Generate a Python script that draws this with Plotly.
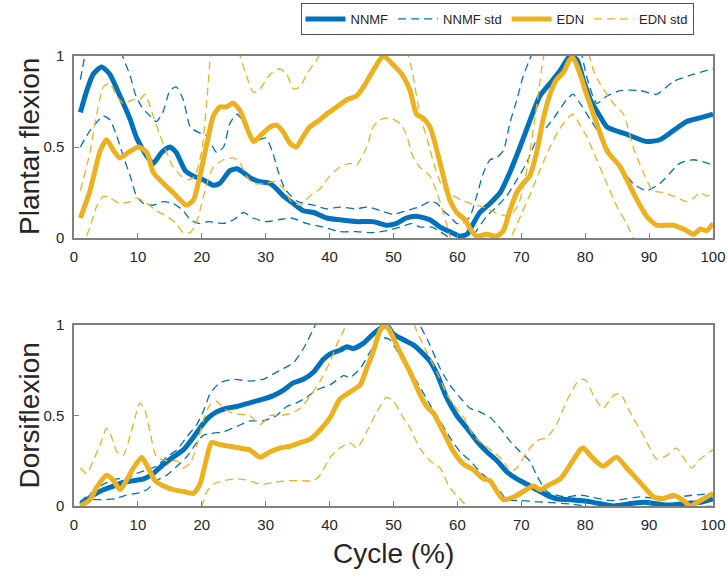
import plotly.graph_objects as go

BLUE = "#0072BD"
ORANGE = "#EDB120"

# ---------------- Top panel: Plantar flexion ----------------
pf_nnmf_x = [1, 2, 3, 4.3, 5.6, 7.2, 8.8, 9.8, 11.4, 12.4, 13.7, 15, 16, 17.4, 18.7, 20.2, 21.8, 22.8,
             24.4, 25.5, 26.5, 27.6, 29.1, 30.7, 31.7, 32.8, 34.3, 35.9, 37.5, 39.5, 41.6, 44.2, 46.8,
             48.9, 50.5, 52, 53.6, 55.7, 57.3, 58.8, 60.4, 61.5, 62.5, 63.5, 65.1, 66.7, 68.2, 69.8,
             71.4, 72.9, 74.5, 76.1, 77.6, 78.7, 79.7, 80.8, 82.3, 83.4, 86.5, 89.6, 91.7, 93.8, 95.9,
             98, 100]
pf_nnmf_y = [0.69, 0.81, 0.90, 0.94, 0.90, 0.78, 0.65, 0.55, 0.45, 0.41, 0.47, 0.50, 0.47, 0.37, 0.34,
             0.32, 0.29, 0.30, 0.37, 0.38, 0.36, 0.33, 0.31, 0.30, 0.27, 0.23, 0.19, 0.15, 0.14, 0.11,
             0.10, 0.09, 0.09, 0.07, 0.08, 0.11, 0.12, 0.10, 0.06, 0.035, 0.01, 0.02, 0.08, 0.14, 0.19,
             0.25, 0.36, 0.50, 0.65, 0.78, 0.85, 0.92, 1.0, 0.98, 0.87, 0.76, 0.67, 0.61, 0.57, 0.53,
             0.54, 0.59, 0.64, 0.66, 0.68]

pf_nnmf_up_x = [1, 2, 3, 5, 6.5, 7.7, 8.8, 9.6, 10.6, 11.9, 12.9, 14, 15, 16, 17.1, 18.2, 19.5, 20.8,
                22.3, 23.4, 24.4, 25.5, 26.5, 28, 30, 31, 32, 33, 34, 35, 37.5, 39.5, 41.6, 44, 46, 48,
                50, 52, 54, 55.7, 56.8, 57.8, 58.8, 59.9, 60.9, 62, 63, 64.1, 65.1, 66.1, 67.2, 68.2,
                69.3, 70.3, 71.3, 72.5, 75, 78, 79.5, 80.2, 81.8, 83.4, 85.5, 88.6, 91.2, 93.8, 97, 100]
pf_nnmf_up_y = [0.87, 1.05, 1.15, 1.2, 1.1, 0.99, 0.89, 0.79, 0.72, 0.67, 0.64, 0.70, 0.81, 0.83, 0.76,
                0.61, 0.58, 0.56, 0.47, 0.50, 0.63, 0.68, 0.64, 0.53, 0.55, 0.48, 0.36, 0.27, 0.23, 0.20,
                0.18, 0.16, 0.17, 0.16, 0.17, 0.15, 0.13, 0.15, 0.17, 0.20, 0.19, 0.15, 0.12, 0.08, 0.08,
                0.12, 0.23, 0.36, 0.43, 0.44, 0.48, 0.63, 0.76, 0.89, 0.98, 1.08, 1.2, 1.15, 1.0, 0.89,
                0.74, 0.78, 0.81, 0.81, 0.79, 0.86, 0.90, 0.93]

pf_nnmf_lo_x = [1, 2.5, 4.6, 5.6, 6.7, 7.7, 8.8, 9.8, 10.9, 12.4, 14, 15.5, 17.1, 18.2, 19.5, 21, 23.4,
                25, 26.5, 28, 30, 32, 34, 36.4, 39, 41.6, 44, 46.8, 49, 51, 53, 54.1, 56, 57.3, 58.8,
                60.4, 62, 63, 64.6, 66.1, 67.7, 69.3, 70.8, 72.4, 74, 75.5, 77.1, 78.1, 79.2, 80.8,
                82.3, 83.4, 85.5, 87.5, 89.6, 91.7, 94.8, 97, 100]
pf_nnmf_lo_y = [0.50, 0.59, 0.67, 0.65, 0.56, 0.45, 0.34, 0.23, 0.19, 0.18, 0.20, 0.19, 0.15, 0.10, 0.08,
                0.09, 0.08, 0.10, 0.14, 0.11, 0.09, 0.10, 0.11, 0.08, 0.06, 0.035, 0.035, 0.03, 0.04,
                0.06, 0.08, 0.06, 0.06, 0.035, 0.0, -0.03, -0.01, 0.04, 0.12, 0.17, 0.23, 0.32, 0.41,
                0.54, 0.61, 0.68, 0.76, 0.79, 0.74, 0.65, 0.57, 0.50, 0.39, 0.30, 0.26, 0.30, 0.41, 0.43,
                0.40]

pf_edn_x = [1, 2.5, 4.1, 5.1, 6.2, 7.2, 8.5, 10.1, 11.4, 12.4, 14, 15.5, 16.6, 17.6, 18.7, 19.7, 20.8,
            21.8, 22.8, 23.8, 24.9, 26, 27, 28.1, 29.1, 30.7, 31.7, 32.8, 33.8, 34.8, 35.9, 36.9, 38.5,
            39.5, 41.1, 42.7, 44.2, 45.3, 46.8, 48.4, 50, 51.5, 52.6, 53.6, 54.6, 55.7, 56.8, 57.8,
            58.8, 59.9, 61.2, 62.2, 63, 64.6, 66.1, 67.2, 68.2, 69.3, 70.3, 71.3, 72.4, 73.4, 74.5,
            75.5, 76.6, 77.6, 78.1, 79.2, 80.2, 81.8, 83.4, 85.5, 87.5, 89.6, 91.2, 93.8, 95.9, 97, 98,
            99, 100]
pf_edn_y = [0.11, 0.26, 0.48, 0.54, 0.48, 0.44, 0.47, 0.50, 0.47, 0.36, 0.30, 0.25, 0.21, 0.18, 0.21,
            0.34, 0.52, 0.67, 0.72, 0.72, 0.74, 0.70, 0.61, 0.53, 0.56, 0.61, 0.62, 0.58, 0.52, 0.50,
            0.56, 0.61, 0.65, 0.68, 0.72, 0.76, 0.78, 0.83, 0.92, 1.0, 0.95, 0.89, 0.81, 0.68, 0.66,
            0.61, 0.48, 0.34, 0.21, 0.14, 0.10, 0.04, 0.01, 0.02, 0.01, 0.04, 0.15, 0.25, 0.30, 0.34,
            0.47, 0.65, 0.79, 0.87, 0.91, 0.98, 0.99, 0.90, 0.79, 0.63, 0.48, 0.39, 0.25, 0.12, 0.07,
            0.07, 0.04, 0.02, 0.05, 0.04, 0.08]

pf_edn_up_x = [1, 2.5, 3.5, 4.6, 5.6, 6.7, 7.7, 9.3, 10.3, 11.1, 12.4, 13.5, 14.5, 15.5, 16.8, 17.9,
               18.9, 20, 20.8, 21.3, 22, 24, 25.5, 26, 27, 28.1, 29.1, 30.7, 32.2, 33.3, 34.3, 35.4,
               36.4, 38, 40, 45, 50, 52, 53, 54.2, 55.3, 56.3, 57.4, 58.4, 59.5, 60.5, 62, 64, 66, 68,
               69.5, 71, 72.5, 73.5, 75, 79, 80.5, 81.3, 82.3, 84.4, 86, 87.5, 89.1, 90.6, 92.2, 93.8,
               95.9, 97, 98, 99, 100]
pf_edn_up_y = [0.26, 0.47, 0.67, 0.83, 0.85, 0.78, 0.74, 0.76, 0.76, 0.79, 0.67, 0.56, 0.47, 0.39,
               0.34, 0.32, 0.34, 0.48, 0.76, 0.98, 1.15, 1.2, 1.1, 1.0, 0.89, 0.80, 0.82, 0.90, 0.93,
               0.90, 0.82, 0.83, 0.90, 0.98, 1.1, 1.2, 1.2, 1.05, 0.90, 0.67, 0.54, 0.41, 0.30, 0.25,
               0.23, 0.21, 0.19, 0.17, 0.14, 0.12, 0.18, 0.40, 0.75, 1.0, 1.2, 1.2, 1.02, 0.92, 0.85,
               0.74, 0.68, 0.50, 0.36, 0.26, 0.25, 0.23, 0.20, 0.22, 0.25, 0.23, 0.25]

pf_edn_lo_x = [1, 1.7, 2.5, 3.5, 4.6, 5.6, 7.2, 8.8, 9.8, 11.4, 12.9, 14.5, 16, 17.1, 18.2, 19, 19.7,
               20.8, 21.8, 23.4, 25, 26, 27, 28, 30, 31.5, 32.8, 34, 35.5, 36.9, 38.5, 40, 41.6, 43.2,
               44.2, 45.8, 46.8, 47.9, 49.4, 51, 52, 53, 54.1, 55.7, 56.8, 57.8, 58.9, 60, 66, 68, 69,
               70, 71.5, 73, 74.5, 76, 78, 79.2, 80.2, 81.8, 83.4, 85, 86.5, 87.5, 89, 100]
pf_edn_lo_y = [-0.05, -0.01, 0.06, 0.17, 0.23, 0.22, 0.19, 0.20, 0.22, 0.19, 0.15, 0.12, 0.08, 0.03,
               0.03, 0.07, 0.15, 0.30, 0.39, 0.43, 0.44, 0.41, 0.34, 0.30, 0.30, 0.31, 0.27, 0.20, 0.18,
               0.23, 0.27, 0.34, 0.39, 0.41, 0.40, 0.50, 0.61, 0.65, 0.66, 0.63, 0.57, 0.45, 0.39, 0.34,
               0.25, 0.14, 0.0, -0.1, -0.1, -0.02, 0.05, 0.13, 0.25, 0.38, 0.50, 0.60, 0.68, 0.62, 0.56,
               0.43, 0.30, 0.17, 0.08, 0.0, -0.05, -0.05]

# ---------------- Bottom panel: Dorsiflexion ----------------
df_nnmf_x = [1, 1.5, 3, 4.6, 6.2, 7.7, 9.3, 10.9, 12.4, 14, 15.5, 17.1, 18.7, 19.7, 20.8, 22.3, 23.9,
             25.5, 27.5, 29.6, 31.2, 32.8, 34.3, 35.9, 37.5, 39, 40.1, 41.6, 42.7, 43.7, 45.3, 46.8,
             47.9, 48.9, 50, 51.5, 53.1, 54.1, 55.7, 56.8, 58.3, 59.9, 61.5, 63, 64.6, 66.2, 67.7,
             69.3, 70.9, 72.4, 74, 75.5, 77.6, 79.2, 81.3, 84.4, 87.5, 89.6, 92.8, 95.9, 98, 100]
df_nnmf_y = [0.01, 0.02, 0.06, 0.09, 0.11, 0.13, 0.14, 0.15, 0.18, 0.23, 0.27, 0.31, 0.38, 0.43, 0.48,
             0.52, 0.54, 0.55, 0.57, 0.59, 0.61, 0.64, 0.68, 0.70, 0.74, 0.81, 0.84, 0.86, 0.88, 0.87,
             0.90, 0.95, 0.98, 1.0, 0.95, 0.92, 0.89, 0.86, 0.80, 0.73, 0.60, 0.50, 0.43, 0.36, 0.30,
             0.25, 0.19, 0.15, 0.12, 0.09, 0.06, 0.04, 0.035, 0.03, 0.02, 0.0, 0.015, 0.02, 0.005,
             0.015, 0.02, 0.04]

df_nnmf_up_x = [1, 1.5, 3, 4.6, 6.7, 8.2, 9.8, 11.4, 12.9, 14.5, 16.1, 17.6, 19.2, 20.2, 21.3, 22.8,
                25, 27.5, 29.6, 31.2, 32.8, 34.3, 35.9, 37.5, 38.5, 45, 52, 54.1, 55.7, 57.3, 58.8,
                60.4, 62, 63.5, 65.1, 66.7, 68.2, 69.8, 71.3, 72.4, 74, 75.5, 77, 79.2, 84, 88.6, 92,
                96.9, 100]
df_nnmf_up_y = [0.02, 0.04, 0.08, 0.12, 0.15, 0.15, 0.18, 0.20, 0.22, 0.27, 0.31, 0.38, 0.45, 0.52,
                0.62, 0.68, 0.70, 0.69, 0.70, 0.73, 0.76, 0.79, 0.87, 0.98, 1.05, 1.15, 1.1, 1.0, 0.89,
                0.76, 0.67, 0.60, 0.54, 0.52, 0.49, 0.43, 0.36, 0.30, 0.25, 0.17, 0.08, 0.06, 0.05,
                0.06, 0.03, 0.05, 0.04, 0.06, 0.07]

df_nnmf_lo_x = [1, 3, 4.6, 6.5, 8.2, 9.8, 11.4, 12.9, 14.5, 16.1, 17.6, 19.2, 20.2, 21.3, 23.4, 25.5,
                27.5, 29.6, 31.7, 33.3, 34.8, 36.4, 37.9, 40.1, 42.2, 43.2, 44.8, 46.3, 47.9, 49.4,
                50.5, 52, 53.6, 55.7, 57.3, 58.8, 60.4, 62, 63.5, 65.1, 66.7, 67.7, 70, 74, 78, 82,
                86, 90, 95, 100]
df_nnmf_lo_y = [0.03, 0.035, 0.035, 0.04, 0.06, 0.07, 0.09, 0.14, 0.17, 0.22, 0.27, 0.35, 0.39, 0.40,
                0.41, 0.44, 0.47, 0.47, 0.50, 0.55, 0.57, 0.60, 0.64, 0.67, 0.72, 0.71, 0.76, 0.85,
                0.93, 0.92, 0.86, 0.77, 0.69, 0.56, 0.47, 0.38, 0.30, 0.25, 0.19, 0.14, 0.08, 0.035,
                0.03, 0.02, 0.01, -0.01, -0.02, -0.01, -0.01, 0.0]

df_edn_x = [1, 2.5, 3.5, 5.1, 6.2, 7.2, 8.2, 9.3, 10.6, 11.6, 12.7, 14, 15.5, 17.1, 18.7, 19.7, 20.8,
            21.5, 22.8, 24.4, 26, 27.5, 29.1, 30.7, 32.2, 33.8, 35.4, 37, 38.5, 40.1, 41.6, 43.2, 44.8,
            45.8, 46.8, 47.9, 48.7, 49.4, 51, 52.6, 54.1, 55.2, 56.3, 57.8, 59.4, 61, 62.5, 64.1, 65.1,
            66.2, 67.2, 68.8, 70.3, 71.9, 73, 74.5, 76.1, 77.7, 79.2, 79.7, 81.3, 82.8, 84.9, 86.5,
            88.6, 90.7, 92.2, 93.8, 95.4, 96.4, 98, 100]
df_edn_y = [0.0, 0.035, 0.10, 0.17, 0.14, 0.09, 0.14, 0.21, 0.27, 0.21, 0.14, 0.11, 0.09, 0.08, 0.07,
            0.12, 0.27, 0.35, 0.34, 0.33, 0.32, 0.31, 0.27, 0.30, 0.32, 0.33, 0.35, 0.37, 0.42, 0.49,
            0.59, 0.63, 0.67, 0.76, 0.85, 0.97, 1.0, 0.97, 0.85, 0.74, 0.62, 0.55, 0.51, 0.41, 0.30,
            0.23, 0.20, 0.15, 0.14, 0.08, 0.035, 0.05, 0.08, 0.11, 0.09, 0.12, 0.15, 0.23, 0.31, 0.32,
            0.26, 0.22, 0.27, 0.21, 0.13, 0.05, 0.04, 0.06, 0.03, 0.0, 0.03, 0.07]

df_edn_up_x = [1, 2, 3, 4.1, 5.1, 5.9, 6.7, 7.7, 8.8, 9.8, 10.3, 11.1, 11.9, 12.9, 14.5, 16.1, 17.1,
               18.2, 19.2, 20.2, 21.3, 22.3, 23.4, 25, 27.5, 29.1, 30.7, 32.2, 33.8, 35.4, 37, 38.5,
               40.1, 41.1, 42.2, 43, 48, 52, 53.6, 55.2, 56.8, 58.3, 59.4, 61, 62.5, 64.1, 65.6, 67.2,
               68.3, 69.3, 70.9, 72.4, 74, 75.5, 77.1, 78.7, 79.5, 80.2, 81.3, 82.8, 84.4, 85.5, 87,
               89.1, 91.2, 92.8, 94.3, 95.9, 96.7, 98, 99.5, 100]
df_edn_up_y = [0.21, 0.18, 0.25, 0.34, 0.43, 0.38, 0.30, 0.28, 0.39, 0.52, 0.57, 0.53, 0.41, 0.27,
               0.25, 0.25, 0.21, 0.24, 0.33, 0.47, 0.56, 0.58, 0.54, 0.51, 0.50, 0.45, 0.50, 0.50,
               0.51, 0.54, 0.61, 0.69, 0.80, 0.89, 0.97, 1.05, 1.15, 1.1, 0.97, 0.85, 0.74, 0.62, 0.56,
               0.49, 0.39, 0.34, 0.30, 0.25, 0.19, 0.21, 0.30, 0.36, 0.38, 0.45, 0.58, 0.68, 0.70,
               0.69, 0.61, 0.54, 0.61, 0.62, 0.52, 0.39, 0.26, 0.28, 0.32, 0.24, 0.21, 0.26, 0.30,
               0.31]

df_edn_lo_x = [1, 18, 19.5, 20, 20.8, 21.8, 23.4, 25.5, 27.5, 29.1, 31.2, 33.3, 35.4, 37.5, 38.5, 40.1,
               41.6, 43.2, 44.3, 45.8, 47.4, 48.9, 50, 51.5, 52.6, 54.1, 55.7, 57.3, 58.8, 60.4, 61.4,
               62.5, 100]
df_edn_lo_y = [-0.1, -0.1, -0.02, 0.0, 0.08, 0.12, 0.14, 0.15, 0.14, 0.12, 0.13, 0.14, 0.14, 0.14,
               0.17, 0.27, 0.32, 0.35, 0.32, 0.41, 0.52, 0.60, 0.58, 0.49, 0.43, 0.32, 0.25, 0.21,
               0.10, 0.04, 0.0, -0.05, -0.05]

x_ticks = list(range(0, 101, 10))
y_ticks = [0, 0.5, 1]
y_tick_text = ["0", "0.5", "1"]

FONT = "Liberation Sans, Arial, Helvetica, sans-serif"
DASH = "8px,5px"

fig = go.Figure()


def add(x, y, color, dashed, name, show, ax):
    fig.add_trace(go.Scatter(
        x=x, y=y, mode="lines", name=name, legendgroup=name, showlegend=show,
        line=dict(color=color, width=1.3 if dashed else 5, dash=DASH if dashed else "solid",
                  shape="spline", smoothing=0.6),
        xaxis="x" if ax == 1 else "x2", yaxis="y" if ax == 1 else "y2",
        hoverinfo="skip"))


for ax, d in [(1, dict(nm=(pf_nnmf_x, pf_nnmf_y), nu=(pf_nnmf_up_x, pf_nnmf_up_y),
                       nl=(pf_nnmf_lo_x, pf_nnmf_lo_y), em=(pf_edn_x, pf_edn_y),
                       eu=(pf_edn_up_x, pf_edn_up_y), el=(pf_edn_lo_x, pf_edn_lo_y))),
              (2, dict(nm=(df_nnmf_x, df_nnmf_y), nu=(df_nnmf_up_x, df_nnmf_up_y),
                       nl=(df_nnmf_lo_x, df_nnmf_lo_y), em=(df_edn_x, df_edn_y),
                       eu=(df_edn_up_x, df_edn_up_y), el=(df_edn_lo_x, df_edn_lo_y)))]:
    first = ax == 1
    add(*d["nm"], BLUE, False, "NNMF", first, ax)
    add(*d["nu"], BLUE, True, "NNMF std", first, ax)
    add(*d["nl"], BLUE, True, "NNMF std", False, ax)
    add(*d["em"], ORANGE, False, "EDN", first, ax)
    add(*d["eu"], ORANGE, True, "EDN std", first, ax)
    add(*d["el"], ORANGE, True, "EDN std", False, ax)

AXC = "#808080"
TICKFONT = dict(size=15, color="#262626", family=FONT)
common_x = dict(range=[0, 100], tickvals=x_ticks, showline=True, mirror=True, linecolor=AXC,
                linewidth=1.5, ticks="inside", ticklen=5, tickcolor=AXC, showgrid=False,
                zeroline=False, tickfont=TICKFONT, ticklabelstandoff=4, automargin=False)
common_y = dict(range=[0, 1], tickvals=y_ticks, ticktext=y_tick_text, showline=True, mirror=True,
                linecolor=AXC, linewidth=1.5, ticks="inside", ticklen=5, tickcolor=AXC,
                showgrid=False, zeroline=False, tickfont=TICKFONT, ticklabelstandoff=5,
                automargin=False)

top_lo = (506 - 238) / 450
bot_hi = (506 - 325) / 450
LABEL = dict(size=28, color="#262626", family=FONT)

fig.update_layout(
    width=728, height=578,
    margin=dict(l=74, r=15, t=56, b=72, autoexpand=False),
    paper_bgcolor="white", plot_bgcolor="white",
    font=dict(family=FONT, color="#262626"),
    xaxis=dict(domain=[0, 1], anchor="y", **common_x),
    yaxis=dict(domain=[top_lo, 1], anchor="x", **common_y),
    xaxis2=dict(domain=[0, 1], anchor="y2", **common_x),
    yaxis2=dict(domain=[0, bot_hi], anchor="x2", **common_y),
    legend=dict(orientation="h", xref="container", yref="container", x=497 / 728,
                xanchor="center", y=1 - 3 / 578, yanchor="top", bordercolor="#505050",
                borderwidth=1, bgcolor="white",
                font=dict(size=13, color="#262626", family=FONT), itemwidth=40,
                tracegroupgap=0),
    showlegend=True,
    annotations=[
        dict(text="Plantar flexion", xref="paper", yref="paper", x=0, y=(top_lo + 1) / 2,
             xanchor="center", yanchor="middle", textangle=-90, xshift=-45, showarrow=False,
             font=LABEL),
        dict(text="Dorsiflexion", xref="paper", yref="paper", x=0, y=bot_hi / 2,
             xanchor="center", yanchor="middle", textangle=-90, xshift=-45, showarrow=False,
             font=LABEL),
        dict(text="Cycle (%)", xref="paper", yref="paper", x=(393 - 74) / 639, y=0,
             xanchor="center", yanchor="middle", yshift=-47, showarrow=False,
             font=LABEL),
    ],
)

fig.write_html("out.html", config={"displayModeBar": False},
               post_script="document.body.style.margin='0';document.body.style.padding='0';")
